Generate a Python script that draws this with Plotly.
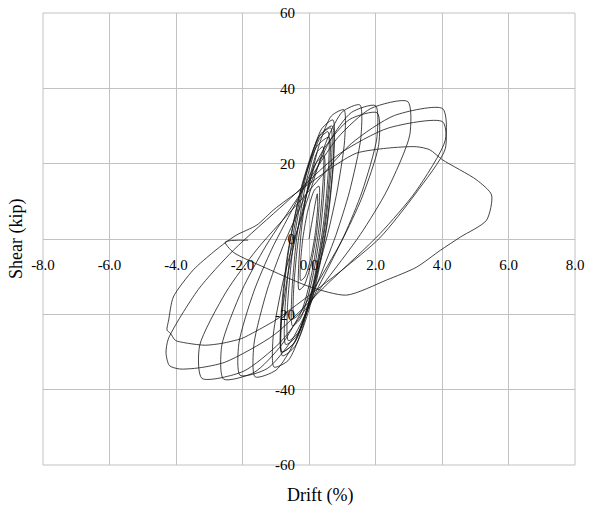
import plotly.graph_objects as go

# ---- axis ticks ----
x_ticks = [-8, -6, -4, -2, 0, 2, 4, 6, 8]
x_tick_text = ["-8.0", "-6.0", "-4.0", "-2.0", "0.0", "2.0", "4.0", "6.0", "8.0"]
y_ticks = [-60, -40, -20, 0, 20, 40, 60]
y_tick_text = ["-60", "-40", "-20", "0", "20", "40", "60"]

# ---- small cycles (drift %, shear kip) ----
drift_small = [0, 0.12, 0.25,
               0.26, 0.19, 0.05, -0.125, -0.25,
               -0.261, -0.184, -0.03, 0.1625, 0.3,
               0.312, 0.228, 0.06, -0.15, -0.3,
               -0.314, -0.214, -0.012, 0.24, 0.42,
               0.437, 0.316, 0.072, -0.233, -0.45,
               -0.468, -0.342, -0.09, 0.225, 0.45,
               0.469, 0.336, 0.07, -0.2625, -0.5,
               -0.521, -0.372, -0.072, 0.3025, 0.57,
               0.594, 0.427, 0.094, -0.3225, -0.62,
               -0.647, -0.459, -0.084, 0.385, 0.72,
               0.75, 0.538, 0.112, -0.42, -0.8,
               -0.83, -0.62, -0.2, 0.325, 0.7,
               0.73, 0.518, 0.092, -0.44, -0.82,
               -0.848, -0.65, -0.252, 0.245, 0.6,
               0.626, 0.444, 0.08, -0.375, -0.7,
               -0.727, -0.538, -0.16, 0.3125, 0.65,
               0.679, 0.474, 0.062, -0.4525, -0.82]
shear_small = [0, 6, 12,
               8.55, 1.65, -5.25, -10.08, -11,
               -7.25, 0.25, 7.75, 13, 14,
               9.875, 1.625, -6.625, -12.4, -13.5,
               -7.8, 3.6, 15.0, 23.0, 24.5,
               17.7, 4.0, -9.6, -19.2, -21,
               -14.55, -1.65, 11.25, 20.3, 22,
               15.25, 1.75, -11.75, -21.2, -23,
               -15.3, 0.2, 15.6, 26.4, 28.5,
               20.2, 3.5, -13.1, -24.8, -27,
               -18.2, -0.6, 16.95, 29.3, 31.6,
               22.2, 3.4, -15.35, -28.5, -31,
               -21.85, -3.55, 14.75, 27.6, 30,
               21, 3, -15, -27.6, -30,
               -21.45, -4.35, 12.75, 24.7, 27,
               18.75, 2.25, -14.25, -25.8, -28,
               -19.4, -2.1, 15.1, 27.2, 29.5,
               20.6, 2.7, -15.1, -27.6, -30]

# ---- medium cycles ----
drift_medium = [-0.839, -0.633, -0.39, -0.035, 0.339, 0.676, 1.05,
                1.071, 0.84, 0.567, 0.168, -0.252, -0.63, -1.05,
                -1.076, -0.792, -0.457, 0.034, 0.55, 1.014, 1.53,
                1.56, 1.215, 0.806, 0.207, -0.423, -0.99, -1.62,
                -1.656, -1.258, -0.787, -0.1, 0.624, 1.276, 2.0,
                2.04, 1.593, 1.064, 0.291, -0.523, -1.256, -2.07,
                -2.111, -1.658, -1.122, -0.34, 0.484, 1.226, 2.05,
                2.096, 1.588, 0.987, 0.11, -0.814, -1.646, -2.57]
shear_medium = [-22.3, -9.4, 0.9, 13.1, 25.9, 32.7, 34.3,
                26.1, 12.44, 1.5, -11.46, -25.1, -32.3, -34,
                -25.65, -11.73, -0.59, 12.63, 26.55, 33.86, 35.6,
                26.94, 12.5, 0.94, -12.77, -27.2, -34.8, -36.6,
                -27.96, -13.56, -2.04, 11.64, 26.04, 33.6, 35.4,
                26.8, 12.49, 1.03, -12.57, -26.9, -34.4, -36.2,
                -27.84, -13.9, -2.74, 10.5, 24.4, 31.76, 33.5,
                25.0, 10.9, -0.44, -13.87, -28.0, -35.4, -37.2]

# ---- large cycles ----
drift_large = [-2.625, -2.016, -1.296, -0.243, 0.865, 1.862, 2.97,
               3.032, 2.351, 1.546, 0.37, -0.868, -1.982, -3.22,
               -3.292, -2.496, -1.555, -0.179, 1.269, 2.572, 4.02,
               4.102, 3.203, 2.141, 0.589, -1.045, -2.516, -3.3, -3.9, -4.2,
               -4.3, -4.232, -3.333, -2.271, -0.719, 0.915, 2.386, 4.02,
               4.1, 3.2, 2.13, 1.0, -0.3, -1.0, -1.62, -2.02, -2.62, -3.12,
               -3.63, -4.02, -4.17, -4.27]
shear_large = [-28.36, -13.6, -1.82, 12.18, 26.9, 34.66, 36.5,
               27.68, 12.98, 1.22, -12.75, -27.45, -35.16, -37,
               -28.4, -14.1, -2.63, 10.97, 25.3, 32.8, 34.6,
               26.32, 12.52, 1.48, -11.63, -25.43, -32.68, -34.2, -34.5, -33.6,
               -30.3, -26.54, -13.44, -2.96, 9.49, 22.6, 29.46, 31.1,
               24, 12, 0.3, -8.2, -17, -21.5, -24.6, -26.4, -27.7, -28.2,
               -27.7, -26.9, -25, -24.2]

# ---- final push and unloading ----
drift_final = [-4.22, -4.08, -3.48, -2.88, -2.52, -2.17, -1.57, -1.07, -0.67,
               0.03, 0.72, 1.43, 2.33, 3.23, 3.63, 4.02, 5.04, 5.49, 5.34,
               4.55, 3.95, 3.23, 2.33, 1.13, 0.03, -1.17, -2.28, -2.52, -1.83]
shear_final = [-21.5, -15.4, -8.2, -3.5, -1.0, 1.1, 3.7, 7.7, 10.4,
               14.8, 19.2, 22.8, 24.1, 24.5, 23.7, 21.0, 15.7, 11.7, 5.0,
               0.5, -3.0, -7.5, -10.9, -14.9, -12.7, -8.2, -3.5, -0.8, -0.3]

drift = drift_small + drift_medium + drift_large + drift_final
shear = shear_small + shear_medium + shear_large + shear_final

GRID = "#c2c2c2"
FONT = "Liberation Serif"

fig = go.Figure()
fig.add_trace(go.Scatter(
    x=drift, y=shear, mode="lines",
    line=dict(color="#151515", width=0.8, shape="spline", smoothing=0.7),
    hoverinfo="skip", showlegend=False))

fig.update_layout(
    width=595, height=508,
    margin=dict(l=43, r=20, t=13, b=43),
    paper_bgcolor="white", plot_bgcolor="white",
    showlegend=False,
    xaxis=dict(range=[-8, 8], tickmode="array", tickvals=x_ticks, ticktext=x_tick_text,
               showgrid=True, gridcolor=GRID, gridwidth=1,
               zeroline=True, zerolinecolor=GRID, zerolinewidth=1,
               showline=False, ticks="", anchor="free", position=0.5,
               automargin=False, ticklabelstandoff=15, ticklabeloverflow="allow",
               tickfont=dict(family=FONT, size=15, color="#000")),
    yaxis=dict(range=[-60, 60], tickmode="array", tickvals=y_ticks, ticktext=y_tick_text,
               showgrid=True, gridcolor=GRID, gridwidth=1,
               zeroline=True, zerolinecolor=GRID, zerolinewidth=1,
               showline=False, ticks="", anchor="free", position=0.5,
               automargin=False, ticklabelstandoff=14, ticklabeloverflow="allow",
               tickfont=dict(family=FONT, size=15, color="#000")),
    shapes=[dict(type="rect", xref="paper", yref="paper", x0=0, y0=0, x1=1, y1=1,
                 line=dict(color=GRID, width=1), layer="below")],
    annotations=[
        dict(text="Drift (%)", xref="paper", yref="paper", x=0.52, y=0,
             xanchor="center", yanchor="middle", yshift=-30, showarrow=False,
             font=dict(family=FONT, size=18, color="#000")),
        dict(text="Shear (kip)", xref="paper", yref="paper", x=0, y=0.5,
             xanchor="center", yanchor="middle", xshift=-27, textangle=-90,
             showarrow=False, font=dict(family=FONT, size=18, color="#000")),
    ],
)

fig.write_html("out.html",
               config={"displayModeBar": False, "staticPlot": True},
               post_script="document.body.style.margin='0';document.body.style.overflow='hidden';")
